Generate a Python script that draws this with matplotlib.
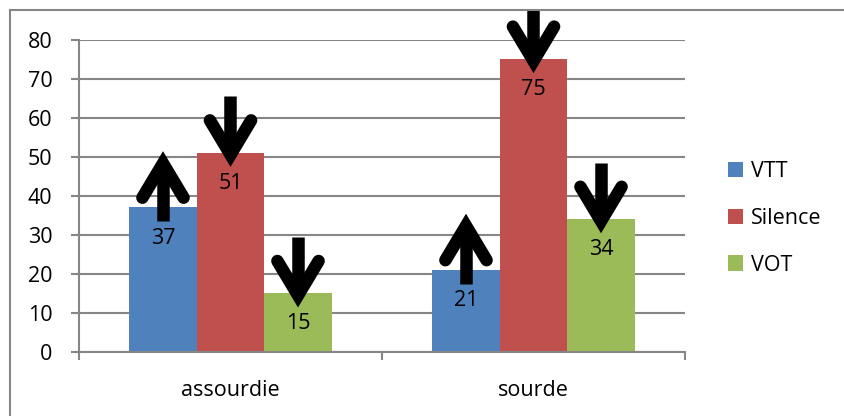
import numpy as np
import matplotlib
matplotlib.use('Agg')
import matplotlib.pyplot as plt
from matplotlib.lines import Line2D
from matplotlib.patches import Rectangle

# Data
categories = ['assourdie', 'sourde']
series_names = ['VTT', 'Silence', 'VOT']
vtt = [37, 21]
silence = [51, 75]
vot = [15, 34]
# arrow direction drawn on each series: +1 up, -1 down
arrow_dirs = [1, -1, -1]

colors = ['#4F81BD', '#C0504D', '#9BBB59']
grid_col = '#868686'

plt.rcParams['font.family'] = ['Open Sans', 'DejaVu Sans']
fs = 15.5

W, H, DPI = 845, 416, 100
fig = plt.figure(figsize=(W / DPI, H / DPI), dpi=DPI)
ax = fig.add_axes([79 / W, 1 - 352 / H, (685 - 79) / W, (352 - 39.5) / H])

x = np.arange(len(categories))
bw = 0.2228
values = [vtt, silence, vot]
offsets = [-bw, 0, bw]

for vals, off, col, name in zip(values, offsets, colors, series_names):
    bars = ax.bar(x + off, vals, width=bw, color=col, label=name, zorder=2)
    for b, v in zip(bars, vals):
        ax.annotate(str(v), (b.get_x() + bw / 2, v), xytext=(0, -22), textcoords='offset points',
                    ha='center', va='center', fontsize=fs, color='black', zorder=3)

# clip arrows to the chart frame
clip = Rectangle((10 / W, 0), 1, 1 - 10 / H, transform=fig.transFigure, visible=False)
fig.add_artist(clip)

# thick black arrows over each bar
lw = 9
wing_dx = 0.068
for vals, off, d in zip(values, offsets, arrow_dirs):
    for xi, v in zip(x, vals):
        cx = xi + off
        if d > 0:
            tail, vert = v - 3.5, v + 11.3
            wing_y = vert - 8.8
        else:
            tail, vert = v + 14.5, v - 0.5
            wing_y = vert + 8.8
        shaft = Line2D([cx, cx], [tail, vert], color='black', lw=lw, solid_capstyle='butt', zorder=4)
        head = Line2D([cx - wing_dx, cx, cx + wing_dx], [wing_y, vert, wing_y], color='black', lw=lw,
                      solid_capstyle='round', solid_joinstyle='miter', zorder=4)
        for ln in (shaft, head):
            ax.add_line(ln)
            ln.set_clip_path(clip)

ax.set_xlim(-0.5, 1.5)
ax.set_ylim(0, 80)
ax.set_yticks(np.arange(0, 81, 10))
ax.yaxis.grid(True, color=grid_col, lw=1.5, zorder=0)
ax.set_axisbelow(True)

ax.set_xticks([-0.5, 0.5, 1.5])
ax.set_xticklabels([])
ax.set_xticks(x, minor=True)
ax.set_xticklabels(categories, minor=True)
ax.tick_params(axis='x', which='major', length=6, width=1.5, color=grid_col)
ax.tick_params(axis='x', which='minor', length=0, pad=20, labelsize=fs)
ax.tick_params(axis='y', length=6, width=1.5, color=grid_col, pad=13, labelsize=fs)

for s in ['top', 'right']:
    ax.spines[s].set_visible(False)
for s in ['left', 'bottom']:
    ax.spines[s].set_color(grid_col)
    ax.spines[s].set_linewidth(1.5)

leg = fig.legend(loc='upper left', bbox_to_anchor=(728 / W, 1 - 161 / H), frameon=False,
                 fontsize=fs, handlelength=0.72, handleheight=0.72, handletextpad=0.35,
                 labelspacing=1.2, borderpad=0, borderaxespad=0)

# outer frame (top and left edges)
fig.add_artist(Line2D([10 / W, 1], [1 - 10 / H, 1 - 10 / H], transform=fig.transFigure,
                      color=grid_col, lw=1.5))
fig.add_artist(Line2D([10 / W, 10 / W], [0, 1 - 10 / H], transform=fig.transFigure,
                      color=grid_col, lw=1.5))

fig.savefig('out.png', dpi=DPI)
